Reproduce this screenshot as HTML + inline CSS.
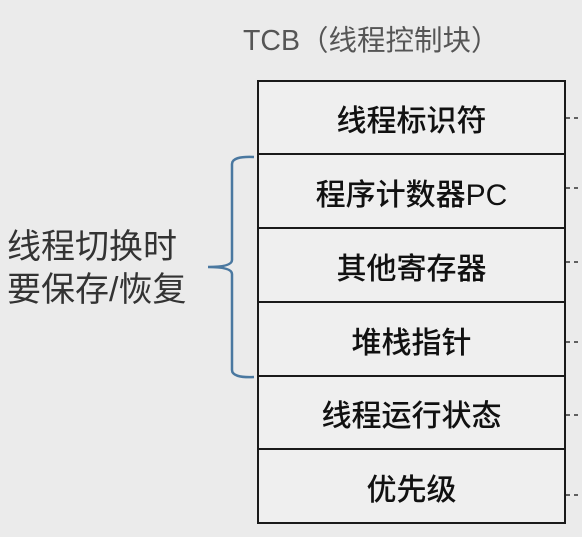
<!DOCTYPE html>
<html><head><meta charset="utf-8"><style>
html,body{margin:0;padding:0;}
body{width:582px;height:537px;background:#ebebeb;position:relative;overflow:hidden;font-family:"Liberation Sans","Noto Sans CJK SC",sans-serif;}
.t{position:absolute;white-space:nowrap;}
.cell{position:absolute;left:258px;width:307px;background:#efefef;display:flex;align-items:center;justify-content:center;font-size:30px;color:#111;font-weight:500;}
</style></head><body>
<div class="t" style="left:243px;top:18px;font-size:28.5px;color:#555;">TCB（线程控制块）</div>
<div class="t" style="left:7px;top:226px;font-size:34px;line-height:43px;color:#333;">线程切换时<br>要保存/恢复</div>
<div class="cell" style="top:81px;height:73px;">线程标识符</div>
<div class="cell" style="top:155px;height:73px;">程序计数器PC</div>
<div class="cell" style="top:229px;height:73px;">其他寄存器</div>
<div class="cell" style="top:303px;height:73px;">堆栈指针</div>
<div class="cell" style="top:377px;height:72px;">线程运行状态</div>
<div class="cell" style="top:450px;height:73px;">优先级</div>
<svg width="582" height="537" style="position:absolute;left:0;top:0">
<g stroke="#1a1a1a" stroke-width="2" fill="none">
<rect x="258" y="81" width="307" height="442"/>
<line x1="258" y1="154" x2="565" y2="154"/>
<line x1="258" y1="228" x2="565" y2="228"/>
<line x1="258" y1="302" x2="565" y2="302"/>
<line x1="258" y1="376" x2="565" y2="376"/>
<line x1="258" y1="449" x2="565" y2="449"/>
</g>
<g stroke="#333" stroke-width="1.5" stroke-dasharray="4,4">
<line x1="566" y1="118" x2="582" y2="118"/>
<line x1="566" y1="188" x2="582" y2="188"/>
<line x1="566" y1="262" x2="582" y2="262"/>
<line x1="566" y1="342" x2="582" y2="342"/>
<line x1="566" y1="415" x2="582" y2="415"/>
<line x1="566" y1="495" x2="582" y2="495"/>
</g>
<path d="M254 157 Q232 156 232 164 L232 260 Q232 267 208 267 Q232 267 232 274 L232 370 Q232 378 254 377" stroke="#4a78a0" stroke-width="2.5" fill="none"/>
</svg>
</body></html>
